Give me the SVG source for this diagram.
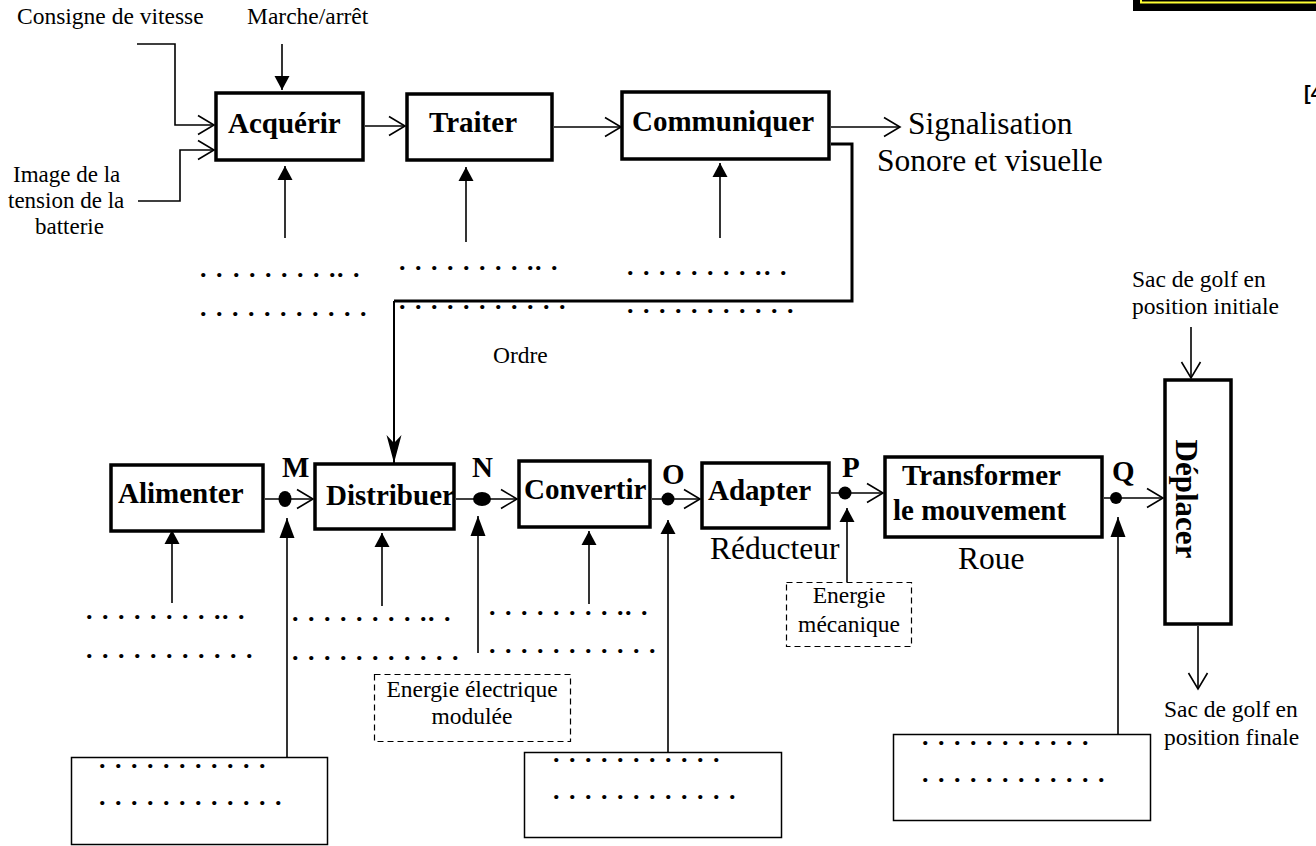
<svg xmlns="http://www.w3.org/2000/svg" width="1316" height="846" viewBox="0 0 1316 846">
<style>
.box{fill:#fff;stroke:#000;stroke-width:3.5}
.thin{fill:#fff;stroke:#000;stroke-width:1.5}
.dash{fill:#fff;stroke:#000;stroke-width:1.2;stroke-dasharray:6 4}
.lbl{font-family:"Liberation Serif","Times New Roman",serif;font-weight:bold;font-size:29px;fill:#000}
.sm{font-family:"Liberation Serif","Times New Roman",serif;font-size:23.5px;fill:#000}
.lg{font-family:"Liberation Serif","Times New Roman",serif;font-size:31.5px;fill:#000}
.dots{font-family:"Liberation Serif","Times New Roman",serif;font-weight:bold;font-size:26px;fill:#000}
.ln{stroke:#000;stroke-width:1.6;fill:none}
.op{marker-end:url(#open)}
.tr{marker-end:url(#tri)}
.trl{marker-end:url(#triL)}
</style>
<defs>
<marker id="open" markerUnits="userSpaceOnUse" markerWidth="22" markerHeight="24" refX="17" refY="10" orient="auto" overflow="visible">
<path d="M1,0.5 L17,10 L1,19.5" fill="none" stroke="#000" stroke-width="1.6"/>
</marker>
<marker id="tri" markerUnits="userSpaceOnUse" markerWidth="16" markerHeight="16" refX="14" refY="7.5" orient="auto" overflow="visible">
<path d="M0,0 L14,7.5 L0,15 z" fill="#000"/>
</marker>
<marker id="triL" markerUnits="userSpaceOnUse" markerWidth="22" markerHeight="16" refX="20" refY="7.5" orient="auto" overflow="visible">
<path d="M0,0 L20,7.5 L0,15 z" fill="#000"/>
</marker>
<marker id="notch" markerUnits="userSpaceOnUse" markerWidth="30" markerHeight="16" refX="28" refY="7.5" orient="auto" overflow="visible">
<path d="M0,0 L28,7.5 L0,15 L8,7.5 z" fill="#000"/>
</marker>
</defs>
<rect width="1316" height="846" fill="#fff"/>

<g id="corner">
<rect x="1133" y="-10" width="190" height="21" fill="#000"/>
<rect x="1141" y="-10" width="180" height="12.5" fill="#000" stroke="#ffff33" stroke-width="2"/>
<text x="1304" y="100" style="font-family:'Liberation Sans',Arial,sans-serif;font-weight:bold;font-size:20px">[4</text>
</g>

<g id="connectors">
<polyline class="ln op" points="137,44 175,44 175,125 214,125"/>
<polyline class="ln op" points="138,201 180,201 180,150 214,150"/>
<line class="ln tr" x1="282" y1="44" x2="282" y2="90"/>
<line class="ln tr" x1="285" y1="238" x2="285" y2="166"/>
<line class="ln tr" x1="466" y1="242" x2="466" y2="167"/>
<line class="ln tr" x1="720" y1="238" x2="720" y2="163"/>
<line class="ln op" x1="365" y1="126" x2="405" y2="126"/>
<line class="ln op" x1="554" y1="127" x2="621" y2="127"/>
<line class="ln op" x1="831" y1="127" x2="900" y2="127"/>
<polyline points="831,144 852,144 852,301 394,301" fill="none" stroke="#000" stroke-width="3"/>
<line x1="394" y1="301" x2="394" y2="463" stroke="#000" stroke-width="2" marker-end="url(#notch)"/>
<line class="ln op" x1="265" y1="499" x2="313" y2="499"/>
<line class="ln trl" x1="287" y1="760" x2="287" y2="518"/>
<line class="ln tr" x1="172" y1="603" x2="172" y2="530"/>
<line class="ln tr" x1="382" y1="606" x2="382" y2="533"/>
<line class="ln op" x1="456" y1="499" x2="517" y2="499"/>
<line class="ln trl" x1="478" y1="653" x2="478" y2="516"/>
<line class="ln tr" x1="589" y1="604" x2="589" y2="531"/>
<line class="ln op" x1="652" y1="499" x2="700" y2="499"/>
<line class="ln tr" x1="668" y1="758" x2="668" y2="520"/>
<line class="ln op" x1="831" y1="493" x2="883" y2="493"/>
<line class="ln tr" x1="847" y1="582" x2="847" y2="508"/>
<line class="ln op" x1="1104" y1="498" x2="1163" y2="498"/>
<line class="ln trl" x1="1118" y1="734" x2="1118" y2="517"/>
<line class="ln op" x1="1191" y1="327" x2="1191" y2="378"/>
<line class="ln op" x1="1198" y1="626" x2="1198" y2="689"/>
<ellipse cx="285" cy="499" rx="6.5" ry="8"/>
<ellipse cx="482" cy="499" rx="9" ry="7"/>
<circle cx="668" cy="499" r="6.5"/>
<circle cx="845" cy="493" r="6.5"/>
<circle cx="1116" cy="498" r="6"/>
</g>

<g id="inputs">
<text class="sm" x="17" y="24">Consigne de vitesse</text>
<text class="sm" x="247" y="24">Marche/arrêt</text>
<text class="sm" style="font-size:23px" x="13" y="181.5">Image de la</text>
<text class="sm" style="font-size:23px" x="8" y="207.5">tension de la</text>
<text class="sm" style="font-size:23px" x="35" y="233.5">batterie</text>
<text class="lg" x="908" y="134">Signalisation</text>
<text class="lg" x="877" y="171">Sonore et visuelle</text>
<text class="sm" x="493" y="363">Ordre</text>
<text class="sm" x="1132" y="287">Sac de golf en</text>
<text class="sm" x="1132" y="314">position initiale</text>
<text class="sm" x="1164" y="717">Sac de golf en</text>
<text class="sm" x="1164" y="745">position finale</text>
</g>

<g id="acquerir"><rect class="box" x="216" y="93" width="147" height="67"/><text class="lbl" x="228" y="133">Acquérir</text></g>
<g id="traiter"><rect class="box" x="407" y="94" width="145" height="66"/><text class="lbl" x="429" y="132">Traiter</text></g>
<g id="communiquer"><rect class="box" x="622" y="92" width="207" height="67"/><text class="lbl" x="632" y="131">Communiquer</text></g>
<g id="alimenter"><rect class="box" x="111" y="465" width="152" height="66"/><text class="lbl" x="118" y="503">Alimenter</text></g>
<g id="distribuer"><rect class="box" x="315" y="464" width="139" height="65"/><text class="lbl" x="326" y="505">Distribuer</text></g>
<g id="convertir"><rect class="box" x="519" y="461" width="131" height="66"/><text class="lbl" x="524" y="499">Convertir</text></g>
<g id="adapter"><rect class="box" x="702" y="463" width="127" height="65"/><text class="lbl" x="708" y="500">Adapter</text><text class="lg" x="710" y="559">Réducteur</text></g>
<g id="transformer"><rect class="box" x="885" y="457" width="217" height="80"/><text class="lbl" x="902" y="485">Transformer</text><text class="lbl" x="893" y="520">le mouvement</text><text class="lg" x="958" y="569">Roue</text></g>
<g id="deplacer"><rect class="box" x="1165" y="380" width="66" height="244"/><text class="lbl" style="font-size:31px" text-anchor="middle" transform="translate(1176,499) rotate(90)">Déplacer</text></g>

<g id="points">
<text class="lbl" x="282" y="477">M</text>
<text class="lbl" x="472" y="477">N</text>
<text class="lbl" x="662" y="484">O</text>
<text class="lbl" x="842" y="477">P</text>
<text class="lbl" x="1112" y="481">Q</text>
</g>

<g id="energie-modulee"><rect class="dash" x="374.5" y="674.5" width="196" height="67"/><text class="sm" x="472" y="697" text-anchor="middle">Energie électrique</text><text class="sm" x="472" y="724" text-anchor="middle">modulée</text></g>
<g id="energie-mecanique"><rect class="dash" x="786.5" y="582.5" width="125" height="64"/><text class="sm" x="849" y="603" text-anchor="middle">Energie</text><text class="sm" x="849" y="632" text-anchor="middle">mécanique</text></g>

<g id="box-bottom-left"><rect class="thin" x="71.5" y="757.5" width="256" height="87"/></g>
<g id="box-bottom-mid"><rect class="thin" x="524.5" y="752.5" width="257" height="85"/></g>
<g id="box-bottom-right"><rect class="thin" x="893.5" y="734.5" width="257" height="86"/></g>

<g id="dotted-texts">
<text class="dots" x="200 216 233 249 265 281 297 313 329 337 353" y="277">...........</text>
<text class="dots" x="200 216 232 248 264 280 296 312 328 344 360" y="316">...........</text>
<text class="dots" x="399 415 431 447 463 479 495 511 527 535 551" y="270">...........</text>
<text class="dots" x="399 415 431 447 463 479 495 511 527 543 559" y="309">...........</text>
<text class="dots" x="627 643 659 675 691 707 723 739 755 764 780" y="275">...........</text>
<text class="dots" x="627 643 659 675 691 707 723 739 755 771 787" y="313">...........</text>
<text class="dots" x="86 102 118 134 150 166 182 198 214 222 238" y="619">...........</text>
<text class="dots" x="86 102 118 134 150 166 182 198 214 230 246" y="658">...........</text>
<text class="dots" x="292 308 324 340 356 372 388 404 420 428 444" y="621">...........</text>
<text class="dots" x="292 308 324 340 356 372 388 404 420 436 452" y="660">...........</text>
<text class="dots" x="489 505 521 537 553 569 585 601 617 625 641" y="615">...........</text>
<text class="dots" x="489 505 521 537 553 569 585 601 617 633 649" y="653">...........</text>
<text class="dots" x="99 115 131 147 163 179 195 211 227 243 259" y="768">...........</text>
<text class="dots" x="99 115 131 147 163 179 195 211 227 243 259 275" y="805">............</text>
<text class="dots" x="553 569 585 601 617 633 649 665 681 697 713" y="762">...........</text>
<text class="dots" x="553 569 585 601 617 633 649 665 681 697 713 729" y="799">............</text>
<text class="dots" x="922 938 954 970 986 1002 1018 1034 1050 1066 1082" y="745">...........</text>
<text class="dots" x="922 938 954 970 986 1002 1018 1034 1050 1066 1082 1098" y="782">............</text>
</g>
</svg>
